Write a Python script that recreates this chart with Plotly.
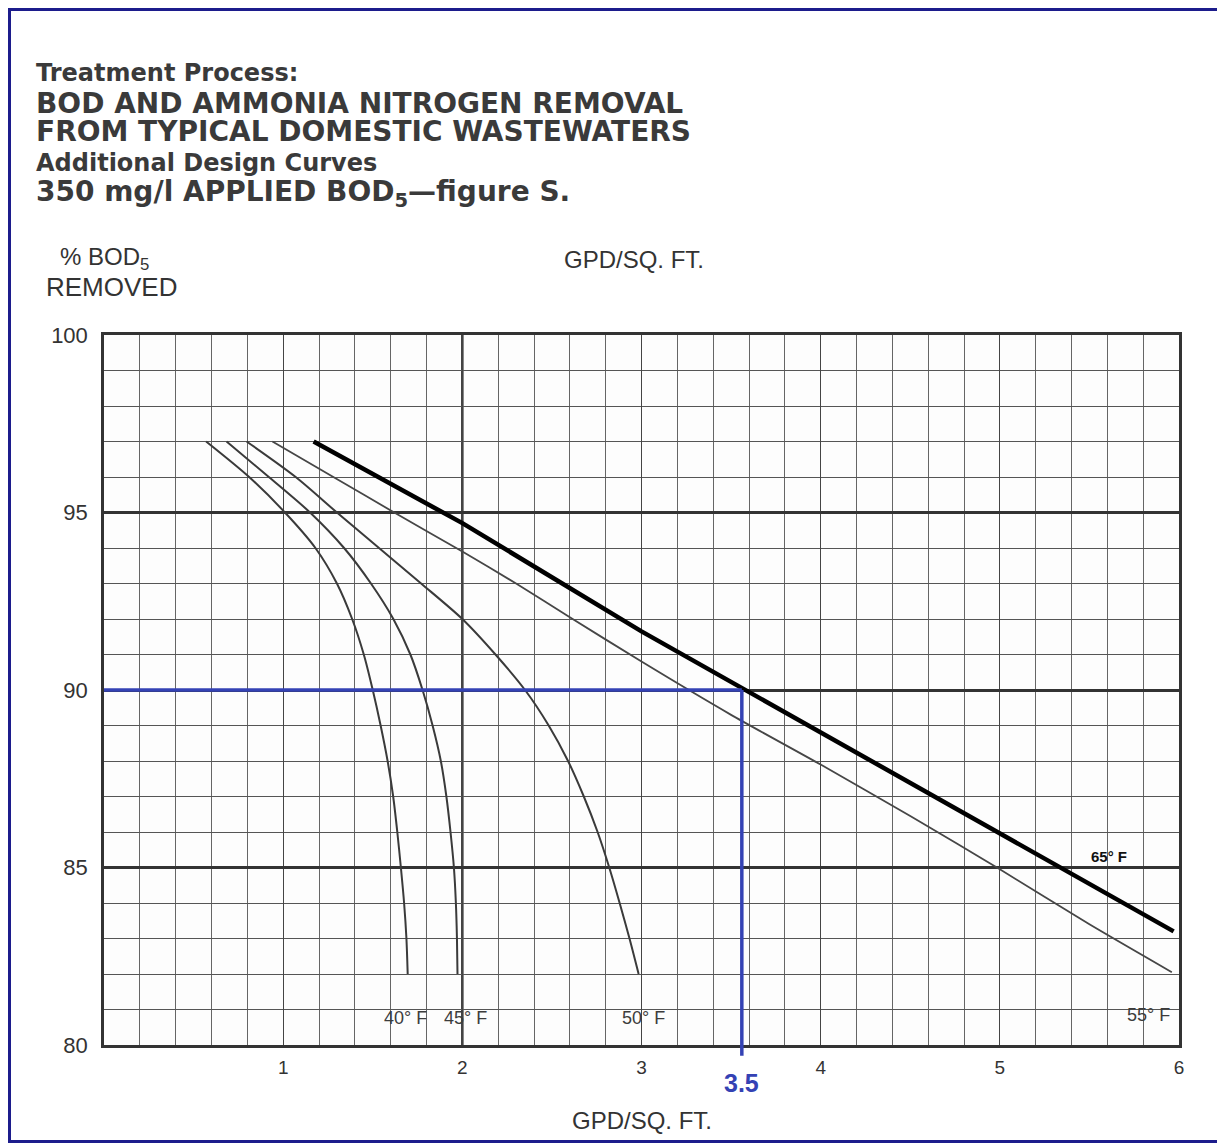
import plotly.graph_objects as go

# axis ticks
x_ticks = [1, 2, 3, 4, 5, 6]
y_ticks = [80, 85, 90, 95, 100]

# curves (% BOD5 removed vs GPD/sq.ft.)
bod_steps = [97, 96, 95, 94, 93, 92, 91, 90, 89, 88, 87, 86, 85, 84, 83, 82]
gpd_40 = [0.57, 0.81, 1.01, 1.18, 1.30, 1.385, 1.45, 1.50, 1.544, 1.583, 1.614, 1.637, 1.657, 1.675, 1.688, 1.695]
gpd_45 = [0.684, 0.92, 1.15, 1.34, 1.49, 1.615, 1.71, 1.778, 1.834, 1.88, 1.911, 1.934, 1.953, 1.964, 1.97, 1.973]
gpd_50 = [0.796, 1.07, 1.30, 1.535, 1.77, 2.0, 2.185, 2.35, 2.482, 2.59, 2.678, 2.755, 2.82, 2.878, 2.933, 2.984]

gpd_55 = [0.94, 1.28, 1.62, 2.0, 2.3, 2.6, 3.0, 3.5, 4.0, 4.5, 5.0, 5.5, 5.96]
bod_55 = [97, 96, 95, 93.9, 93.0, 92.05, 90.8, 89.3, 87.9, 86.45, 84.95, 83.4, 82.05]

gpd_65 = [1.17, 2.0, 3.0, 3.56, 4.5, 5.22, 5.97]
bod_65 = [97, 94.7, 91.65, 90.05, 87.4, 85.33, 83.2]

# curve labels
temp_labels = ["40° F", "45° F", "50° F", "55° F", "65° F"]
label_x = [1.68, 2.02, 3.01, 5.83, 5.61]
label_y = [80.76, 80.76, 80.76, 80.84, 85.3]

# design point
design_gpd = 3.56
design_bod = 90
design_text = "3.5"

# page geometry (the page body adds an 8px margin)
W, H = 1225, 1143
OFF = 8
L, R, T, B = 104, 46, 335, 98
PW, PH = W - L - R, H - T - B


def px(x):
    return (x - L) / PW


def py(y):
    return (H - B - y) / PH


fig = go.Figure()

thin = dict(color="#3a3a3a", width=2)
for xs, ys in [(gpd_40, bod_steps), (gpd_45, bod_steps), (gpd_50, bod_steps)]:
    fig.add_trace(go.Scatter(x=xs, y=ys, mode="lines", line=dict(shape="spline", smoothing=0.8, **thin),
                             showlegend=False, hoverinfo="skip"))
fig.add_trace(go.Scatter(x=gpd_55, y=bod_55, mode="lines",
                         line=dict(color="#464646", width=1.8, shape="spline", smoothing=0.6),
                         showlegend=False, hoverinfo="skip"))
fig.add_trace(go.Scatter(x=gpd_65, y=bod_65, mode="lines",
                         line=dict(color="#000000", width=4.5),
                         showlegend=False, hoverinfo="skip"))

# blue design guide
fig.add_trace(go.Scatter(x=[0, design_gpd], y=[design_bod, design_bod], mode="lines",
                         line=dict(color="#3442b4", width=3.5), showlegend=False, hoverinfo="skip"))
fig.add_shape(type="line", xref="x", yref="paper", x0=design_gpd, x1=design_gpd,
              y0=-0.015, y1=(design_bod - 80) / 20, line=dict(color="#3442b4", width=3.5))

# heavier line at x = 2
fig.add_shape(type="line", xref="x", yref="paper", x0=2, x1=2, y0=0, y1=1,
              line=dict(color="#333333", width=2.5), layer="below")

# outer blue frame
fig.add_shape(type="rect", xref="paper", yref="paper",
              x0=px(OFF + 1.5), x1=px(W - 1.5), y0=py(H - 1.5), y1=py(OFF + 1.5),
              line=dict(color="#1c1c8c", width=3))

title_font = dict(family="DejaVu Sans", color="#3a3a3a", weight="bold")
title_lines = [
    ("Treatment Process:", 73, 24),
    ("BOD AND AMMONIA NITROGEN REMOVAL", 103, 28),
    ("FROM TYPICAL DOMESTIC WASTEWATERS", 132, 28),
    ("Additional Design Curves", 163, 24),
    ("350 mg/l APPLIED BOD<sub>5</sub>—figure S.", 193, 28),
]
for txt, yy, sz in title_lines:
    fig.add_annotation(text=txt, xref="paper", yref="paper", x=px(34), y=py(yy),
                       xanchor="left", yanchor="middle", showarrow=False,
                       font=dict(title_font, size=sz))

lab_font = dict(family="Liberation Sans", size=24, color="#333333")
fig.add_annotation(text="% BOD<sub>5</sub>", xref="paper", yref="paper", x=px(58), y=py(259),
                   xanchor="left", yanchor="middle", showarrow=False, font=lab_font)
fig.add_annotation(text="REMOVED", xref="paper", yref="paper", x=px(44), y=py(287),
                   xanchor="left", yanchor="middle", showarrow=False, font=dict(lab_font, size=26))
fig.add_annotation(text="GPD/SQ. FT.", xref="paper", yref="paper", x=px(634), y=py(260),
                   xanchor="center", yanchor="middle", showarrow=False, font=lab_font)
fig.add_annotation(text="GPD/SQ. FT.", xref="paper", yref="paper", x=px(642), y=py(1120),
                   xanchor="center", yanchor="middle", showarrow=False, font=lab_font)
fig.add_annotation(text="<b>" + design_text + "</b>", xref="x", yref="paper", x=design_gpd, y=py(1083),
                   xanchor="center", yanchor="middle", showarrow=False,
                   font=dict(family="Liberation Sans", size=25, color="#3442b4"))

for i, t in enumerate(temp_labels):
    if t.startswith("65"):
        f = dict(family="Liberation Sans", size=15, color="#111111", weight="bold")
    else:
        f = dict(family="Liberation Sans", size=18, color="#3c3c3c")
    fig.add_annotation(text=t, x=label_x[i], y=label_y[i], showarrow=False,
                       xanchor="center", yanchor="middle", font=f)

fig.update_xaxes(range=[0, 6], tickmode="array", tickvals=x_ticks, ticktext=[str(v) for v in x_ticks],
                 showgrid=True, gridcolor="#444444", gridwidth=1.2, zeroline=False,
                 showline=True, mirror=True, linecolor="#333333", linewidth=2.5,
                 ticks="", ticklabelstandoff=3,
                 tickfont=dict(family="Liberation Sans", size=19, color="#333333"),
                 minor=dict(dtick=0.2, tick0=0, showgrid=True, gridcolor="#666666", gridwidth=1))
fig.update_yaxes(range=[80, 100], tickmode="array", tickvals=y_ticks,
                 showgrid=True, gridcolor="#333333", gridwidth=2.5, zeroline=False,
                 showline=True, mirror=True, linecolor="#333333", linewidth=2.5,
                 ticks="", ticklabelstandoff=9,
                 tickfont=dict(family="Liberation Sans", size=22, color="#333333"),
                 minor=dict(dtick=1, tick0=80, showgrid=True, gridcolor="#555555", gridwidth=1.3))

fig.update_layout(width=W - OFF, height=H - OFF,
                  margin=dict(l=L - OFF, r=R, t=T - OFF, b=B),
                  paper_bgcolor="white", plot_bgcolor="#fdfdfd")

fig.write_html("out.html")
